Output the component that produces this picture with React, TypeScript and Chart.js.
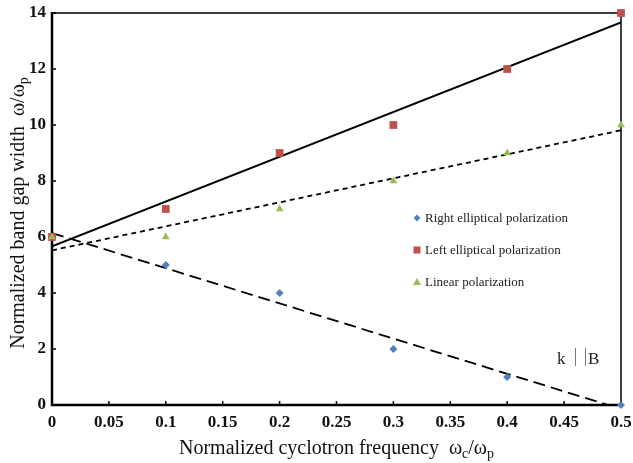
import { useEffect, useRef } from 'react';
import { Chart, registerables } from 'chart.js';

Chart.register(...registerables);

const xValues = [0, 0.1, 0.2, 0.3, 0.4, 0.5];
const rightElliptical = [6, 5, 4, 2, 1, 0];
const leftElliptical = [6, 7, 9, 10, 12, 14];
const linearPolarization = [6, 6, 7, 8, 9, 10];
const xTickLabels = ['0', '0.05', '0.1', '0.15', '0.2', '0.25', '0.3', '0.35', '0.4', '0.45', '0.5'];
const yTickLabels = ['0', '2', '4', '6', '8', '10', '12', '14'];
const seriesNames = ['Right elliptical polarization', 'Left elliptical polarization', 'Linear polarization'];
const seriesColors = ['#4F81BD', '#C0504D', '#9BBB59'];

const SERIF = "'Liberation Serif', 'Times New Roman', serif";

function trend(xs: number[], ys: number[]) {
  const n = xs.length;
  const mx = xs.reduce((a, b) => a + b, 0) / n;
  const my = ys.reduce((a, b) => a + b, 0) / n;
  let sxy = 0;
  let sxx = 0;
  for (let i = 0; i < n; i++) {
    sxy += (xs[i] - mx) * (ys[i] - my);
    sxx += (xs[i] - mx) * (xs[i] - mx);
  }
  const b = sxy / sxx;
  const a = my - b * mx;
  const x0 = xs[0];
  const x1 = xs[n - 1];
  return [
    { x: x0, y: a + b * x0 },
    { x: x1, y: a + b * x1 },
  ];
}

const pts = (ys: number[]) => xValues.map((x, i) => ({ x, y: ys[i] }));

const framePlugin = {
  id: 'frame',
  beforeDatasetsDraw(chart: any) {
    const { ctx, chartArea: a, scales } = chart;
    ctx.save();
    ctx.strokeStyle = '#000';
    ctx.lineWidth = 1.5;
    ctx.beginPath();
    ctx.moveTo(a.left, a.top);
    ctx.lineTo(a.right, a.top);
    ctx.lineTo(a.right, a.bottom);
    ctx.stroke();
    ctx.lineWidth = 1.5;
    ctx.beginPath();
    scales.x.ticks.forEach((_t: any, i: number) => {
      const px = scales.x.getPixelForTick(i);
      ctx.moveTo(px, a.bottom);
      ctx.lineTo(px, a.bottom - 4);
    });
    scales.y.ticks.forEach((_t: any, i: number) => {
      const py = scales.y.getPixelForTick(i);
      ctx.moveTo(a.left, py);
      ctx.lineTo(a.left + 4, py);
    });
    ctx.stroke();
    ctx.lineWidth = 2.5;
    ctx.beginPath();
    ctx.moveTo(a.left, a.top - 1);
    ctx.lineTo(a.left, a.bottom);
    ctx.lineTo(a.right + 1, a.bottom);
    ctx.stroke();
    ctx.restore();
  },
  afterDraw(chart: any) {
    const { ctx, chartArea: a } = chart;
    ctx.save();
    // legend
    const lx = 417;
    const rows = [218, 250, 282];
    ctx.font = `13px ${SERIF}`;
    ctx.textBaseline = 'middle';
    ctx.textAlign = 'left';
    rows.forEach((ry, i) => {
      ctx.fillStyle = seriesColors[i];
      ctx.beginPath();
      if (i === 0) {
        ctx.moveTo(lx, ry - 3.5);
        ctx.lineTo(lx + 3.5, ry);
        ctx.lineTo(lx, ry + 3.5);
        ctx.lineTo(lx - 3.5, ry);
        ctx.closePath();
      } else if (i === 1) {
        ctx.rect(lx - 3.5, ry - 3.5, 7, 7);
      } else {
        ctx.moveTo(lx, ry - 4);
        ctx.lineTo(lx + 4, ry + 3);
        ctx.lineTo(lx - 4, ry + 3);
        ctx.closePath();
      }
      ctx.fill();
      ctx.fillStyle = '#222';
      ctx.fillText(seriesNames[i], lx + 8, ry + 1);
    });

    // k || B annotation
    ctx.font = `17px ${SERIF}`;
    ctx.fillStyle = '#222';
    ctx.textBaseline = 'alphabetic';
    ctx.fillText('k', 557, 364);
    ctx.fillText('B', 588, 364);
    ctx.strokeStyle = '#777';
    ctx.lineWidth = 1;
    ctx.beginPath();
    ctx.moveTo(575.5, 348);
    ctx.lineTo(575.5, 366);
    ctx.moveTo(585.5, 348);
    ctx.lineTo(585.5, 366);
    ctx.stroke();

    // titles
    ctx.fillStyle = '#111';
    const big = `20px ${SERIF}`;
    const sub = `14px ${SERIF}`;
    {
      const parts: [string, string, number][] = [
        ['Normalized cyclotron frequency  ω', big, 0],
        ['c', sub, 4],
        ['/ω', big, 0],
        ['p', sub, 4],
      ];
      let total = 0;
      parts.forEach(([t, f]) => {
        ctx.font = f;
        total += ctx.measureText(t).width;
      });
      let x = (a.left + a.right) / 2 - total / 2;
      const y = 454;
      ctx.textAlign = 'left';
      parts.forEach(([t, f, dy]) => {
        ctx.font = f;
        ctx.fillText(t, x, y + dy);
        x += ctx.measureText(t).width;
      });
    }
    {
      const parts: [string, string, number][] = [
        ['Normalized band gap width  ω/ω', big, 0],
        ['p', sub, 4],
      ];
      let total = 0;
      parts.forEach(([t, f]) => {
        ctx.font = f;
        total += ctx.measureText(t).width;
      });
      ctx.save();
      ctx.translate(24, (a.top + a.bottom) / 2 + 4);
      ctx.rotate(-Math.PI / 2);
      let x = -total / 2;
      parts.forEach(([t, f, dy]) => {
        ctx.font = f;
        ctx.fillText(t, x, dy);
        x += ctx.measureText(t).width;
      });
      ctx.restore();
    }
    ctx.restore();
  },
};

export default function App() {
  const ref = useRef<HTMLCanvasElement | null>(null);
  useEffect(() => {
    document.body.style.margin = '0';
    if (!ref.current) return;
    const chart = new Chart(ref.current, {
      type: 'scatter',
      data: {
        datasets: [
          {
            label: seriesNames[0],
            data: pts(rightElliptical),
            pointStyle: 'rectRot',
            pointRadius: 4,
            backgroundColor: seriesColors[0],
            borderColor: seriesColors[0],
            borderWidth: 0,
            clip: false,
            order: 3,
          },
          {
            label: seriesNames[1],
            data: pts(leftElliptical),
            pointStyle: 'rect',
            pointRadius: 5.5,
            backgroundColor: seriesColors[1],
            borderColor: seriesColors[1],
            borderWidth: 0,
            clip: false,
            order: 2,
          },
          {
            label: seriesNames[2],
            data: pts(linearPolarization),
            pointStyle: 'triangle',
            pointRadius: 4.5,
            backgroundColor: seriesColors[2],
            borderColor: seriesColors[2],
            borderWidth: 0,
            clip: false,
            order: 1,
          },
          {
            type: 'line',
            label: 'trend left',
            data: trend(xValues, leftElliptical),
            borderColor: '#000',
            borderWidth: 2,
            pointRadius: 0,
            order: 10,
          },
          {
            type: 'line',
            label: 'trend linear',
            data: trend(xValues, linearPolarization),
            borderColor: '#000',
            borderWidth: 1.8,
            borderDash: [5, 4],
            pointRadius: 0,
            order: 10,
          },
          {
            type: 'line',
            label: 'trend right',
            data: trend(xValues, rightElliptical),
            borderColor: '#000',
            borderWidth: 1.8,
            borderDash: [12, 6],
            pointRadius: 0,
            order: 10,
          },
        ],
      },
      options: {
        responsive: false,
        animation: false,
        layout: { padding: { left: 0, top: 13, right: 12, bottom: 0 } },
        plugins: {
          legend: { display: false },
          tooltip: { enabled: false },
          title: { display: false },
        },
        scales: {
          x: {
            type: 'linear',
            min: 0,
            max: 0.5,
            afterBuildTicks: (s: any) => {
              s.ticks = xTickLabels.map((l) => ({ value: parseFloat(l) }));
            },
            afterFit: (s: any) => {
              s.height = 58;
              s.paddingLeft = 0;
              s.paddingRight = 0;
            },
            ticks: {
              autoSkip: false,
              maxRotation: 0,
              padding: 7,
              color: '#111',
              font: { family: SERIF, size: 17, weight: 'bold' },
              callback: (_v: any, i: number) => xTickLabels[i],
            },
            grid: { display: false, drawTicks: false },
            border: { display: false },
          },
          y: {
            type: 'linear',
            min: 0,
            max: 14,
            afterBuildTicks: (s: any) => {
              s.ticks = yTickLabels.map((l) => ({ value: parseFloat(l) }));
            },
            afterFit: (s: any) => {
              s.width = 52;
              s.paddingTop = 0;
              s.paddingBottom = 0;
            },
            ticks: {
              autoSkip: false,
              padding: 6,
              color: '#111',
              font: { family: SERIF, size: 17, weight: 'bold' },
              callback: (_v: any, i: number) => yTickLabels[i],
            },
            grid: { display: false, drawTicks: false },
            border: { display: false },
          },
        },
      },
      plugins: [framePlugin],
    } as any);
    return () => chart.destroy();
  }, []);
  return (
    <div style={{ width: 633, height: 463 }}>
      <canvas ref={ref} width={633} height={463} style={{ display: 'block' }} />
    </div>
  );
}
